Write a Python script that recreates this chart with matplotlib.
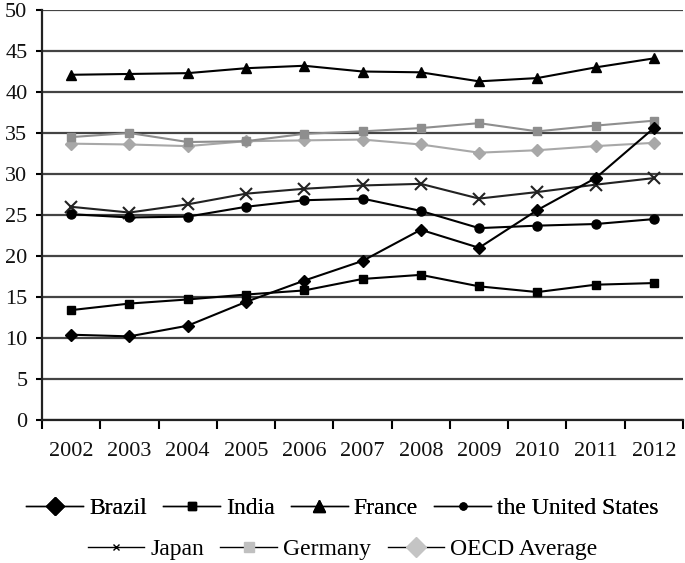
import numpy as np
import matplotlib
matplotlib.use('Agg')
import matplotlib.pyplot as plt
from matplotlib.lines import Line2D
from matplotlib.ticker import FixedLocator

plt.rcParams['font.family'] = ['Liberation Serif', 'DejaVu Serif']

years = ['2002', '2003', '2004', '2005', '2006', '2007', '2008', '2009', '2010', '2011', '2012']
brazil = [10.4, 10.2, 11.5, 14.4, 17.0, 19.4, 23.2, 21.0, 25.6, 29.5, 35.6]
india = [13.4, 14.2, 14.7, 15.3, 15.8, 17.2, 17.7, 16.3, 15.6, 16.5, 16.7]
france = [42.1, 42.2, 42.3, 42.9, 43.2, 42.5, 42.4, 41.3, 41.7, 43.0, 44.1]
usa = [25.1, 24.7, 24.8, 26.0, 26.8, 27.0, 25.5, 23.4, 23.7, 23.9, 24.5]
japan = [26.0, 25.3, 26.3, 27.6, 28.2, 28.6, 28.8, 27.0, 27.8, 28.7, 29.5]
germany = [34.5, 35.0, 33.9, 34.0, 34.9, 35.2, 35.6, 36.2, 35.2, 35.9, 36.5]
oecd = [33.7, 33.6, 33.4, 34.0, 34.1, 34.2, 33.6, 32.6, 32.9, 33.4, 33.8]

fig = plt.figure(figsize=(6.85, 5.63), dpi=100)
ax = fig.add_axes([42/685, 1 - 420/563, 641/685, 410/563])

x = np.arange(len(years))

ax.plot(x, oecd, '-D', color='#a8a8a8', ms=6, lw=1.5)
ax.plot(x, germany, '-s', color='#8e8e8e', ms=6, lw=1.5)
ax.plot(x, france, '-^', color='black', ms=7, lw=1.5)
ax.plot(x, japan, '-x', color='#222222', ms=8, mew=1.5, lw=1.5)
ax.plot(x, usa, '-o', color='black', ms=6.5, lw=1.5)
ax.plot(x, india, '-s', color='black', ms=6, lw=1.5)
ax.plot(x, brazil, '-D', color='black', ms=6.5, lw=1.5)

ax.set_xlim(-0.5, 10.5)
ax.set_ylim(0, 50)
ax.set_yticks(np.arange(0, 51, 5))
ax.set_xticks(x)
ax.set_xticklabels(years)
ax.xaxis.set_minor_locator(FixedLocator(np.arange(-0.5, 11, 1)))
ax.tick_params(axis='x', which='major', length=0, pad=16, labelsize=16, labelcolor='#111111')
ax.tick_params(axis='x', which='minor', length=6.5, width=1.5, direction='out')
ax.tick_params(axis='y', length=4.5, width=1.5, direction='out', labelsize=16, pad=6,
               labelcolor='#111111')

ax.yaxis.grid(True, color='#444444', lw=1.6)
ax.set_axisbelow(True)
for s in ['top', 'right']:
    ax.spines[s].set_visible(False)
for s in ['left', 'bottom']:
    ax.spines[s].set_linewidth(1.6)
    ax.spines[s].set_color('#222222')

# legend proxies (markers drawn at legend-specific sizes)
def proxy(marker, ms, color, label):
    return Line2D([], [], color='black', lw=1, marker=marker, ms=ms,
                  mfc=color, mec=color, label=label)

row1 = [proxy('D', 9, 'black', 'Brazil'), proxy('s', 6, 'black', 'India'),
        proxy('^', 9, 'black', 'France'), proxy('o', 5, 'black', 'the United States')]
row2 = [proxy('x', 5, 'black', 'Japan'), proxy('s', 7, '#c0c0c0', 'Germany'),
        proxy('D', 10, '#c4c4c4', 'OECD Average')]

leg1 = fig.legend(handles=row1, loc='center', bbox_to_anchor=(0.5, 1 - 508/563),
                  ncol=4, frameon=False, fontsize=17, handlelength=2.4, columnspacing=0.7,
                  handletextpad=0.25)
fig.add_artist(leg1)
fig.legend(handles=row2, loc='center', bbox_to_anchor=(0.5, 1 - 549/563),
           ncol=3, frameon=False, fontsize=17, handlelength=2.4, columnspacing=0.7,
           handletextpad=0.25)

fig.savefig('out.png', dpi=100)
